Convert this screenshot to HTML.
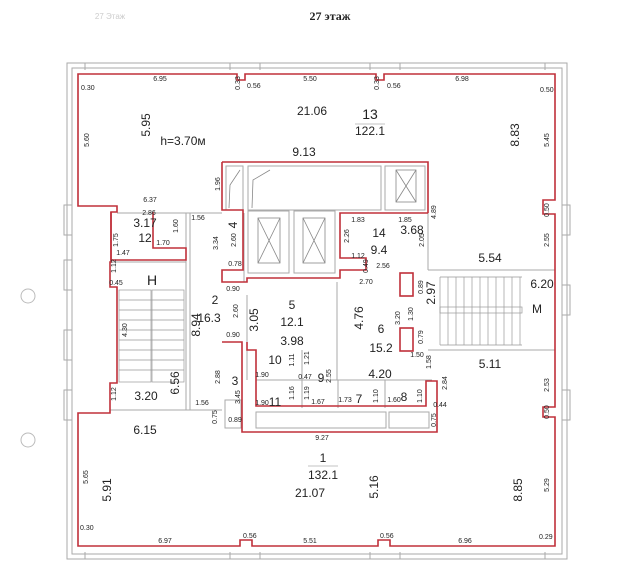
<!DOCTYPE html>
<html><head><meta charset="utf-8"><style>
html,body{margin:0;padding:0;background:#fff}
svg{display:block}
text{font-family:"Liberation Sans",sans-serif;fill:#222}
.s{font-size:7px}
.m{font-size:12px}
.l{font-size:14px}
</style></head><body>
<svg width="638" height="579" viewBox="0 0 638 579" xmlns="http://www.w3.org/2000/svg">
<rect width="638" height="579" fill="#fff"/>
<text x="330" y="20" text-anchor="middle" style="font-family:'Liberation Serif',serif;font-size:12px;font-weight:bold">27 этаж</text>
<text x="110" y="19" text-anchor="middle" style="font-size:8px;fill:#ccc">27 Этаж</text>
<circle cx="28" cy="296" r="7" fill="none" stroke="#bbb"/>
<circle cx="28" cy="440" r="7" fill="none" stroke="#bbb"/>
<g fill="none" stroke="#aaa" stroke-width="1">
<rect x="67" y="63" width="500" height="496"/>
<rect x="72" y="68" width="490" height="486"/>
<line x1="85" y1="63" x2="85" y2="70"/><line x1="230" y1="63" x2="230" y2="70"/><line x1="260" y1="63" x2="260" y2="70"/>
<line x1="370" y1="63" x2="370" y2="70"/><line x1="400" y1="63" x2="400" y2="70"/><line x1="545" y1="63" x2="545" y2="70"/>
<line x1="85" y1="552" x2="85" y2="559"/><line x1="230" y1="552" x2="230" y2="559"/><line x1="260" y1="552" x2="260" y2="559"/>
<line x1="370" y1="552" x2="370" y2="559"/><line x1="400" y1="552" x2="400" y2="559"/><line x1="545" y1="552" x2="545" y2="559"/>
<rect x="64" y="205" width="8" height="30"/><rect x="64" y="260" width="8" height="30"/><rect x="64" y="330" width="8" height="30"/><rect x="64" y="390" width="8" height="30"/>
<rect x="562" y="205" width="8" height="30"/><rect x="562" y="285" width="8" height="30"/><rect x="562" y="390" width="8" height="30"/>
<line x1="117" y1="213" x2="222" y2="213"/>
<line x1="186" y1="213" x2="186" y2="410"/><line x1="190" y1="213" x2="190" y2="410"/>
<line x1="110" y1="410" x2="222" y2="410"/>
<line x1="110" y1="262" x2="186" y2="262"/>
<line x1="244" y1="213" x2="244" y2="282"/>
<line x1="428" y1="213" x2="428" y2="270"/>
<line x1="428" y1="270" x2="555" y2="270"/>
<line x1="428" y1="350" x2="555" y2="350"/>
<line x1="337" y1="282" x2="337" y2="380"/>
<line x1="247" y1="295" x2="247" y2="380"/>
<line x1="256" y1="380" x2="432" y2="380"/>
<line x1="302" y1="350" x2="302" y2="408"/>
<line x1="338" y1="380" x2="338" y2="408"/>
<line x1="385" y1="380" x2="385" y2="408"/>
<rect x="226" y="166" width="17" height="44"/><rect x="248" y="166" width="133" height="44"/><rect x="385" y="166" width="40" height="44"/>
<rect x="248" y="211" width="41" height="62"/><rect x="294" y="211" width="41" height="62"/>
<rect x="256" y="412" width="130" height="16"/><rect x="389" y="412" width="40" height="16"/>
<rect x="225" y="400" width="16" height="28"/>
</g>
<g fill="none" stroke="#888" stroke-width="0.8">
<rect x="258" y="218" width="22" height="45"/><line x1="258" y1="218" x2="280" y2="263"/><line x1="280" y1="218" x2="258" y2="263"/>
<rect x="303" y="218" width="22" height="45"/><line x1="303" y1="218" x2="325" y2="263"/><line x1="325" y1="218" x2="303" y2="263"/>
<rect x="396" y="170" width="20" height="32"/><line x1="396" y1="170" x2="416" y2="202"/><line x1="416" y1="170" x2="396" y2="202"/>
<path d="M229 208 L230 185 L240 170"/><path d="M252 208 L253 180 L270 170"/>
</g>
<g stroke="#999" stroke-width="0.7" fill="none">
<rect x="119" y="290" width="32" height="92"/><rect x="152" y="290" width="32" height="92"/>
<path d="M119 300H184M119 310H184M119 320H184M119 330H184M119 340H184M119 350H184M119 360H184M119 370H184"/>
<path d="M440 277V345M448 277V345M456 277V345M464 277V345M472 277V345M480 277V345M488 277V345M496 277V345M504 277V345M512 277V345M520 277V345"/>
<rect x="440" y="307" width="82" height="6"/>
<line x1="440" y1="277" x2="522" y2="277"/><line x1="440" y1="345" x2="522" y2="345"/>
</g>
<g fill="none" stroke="#c0303a" stroke-width="1.6">
<path d="M78 206 V74 H237 V80 H245 V74 H376 V80 H384 V74 H555 V200 H543 V214 H555 V407 H543 V417 H555 V546 H390 V540 H378 V546 H252 V540 H240 V546 H78 V413 H110 V383 H117 V287 H110 V262 H111 V212 H117 V206 Z"/>
<path d="M111 212 V260 H186 V248 H153 V212"/>
<path d="M222 162 H428 V213"/>
<path d="M222 162 V210 H243 V270 H222 V282 H247 V278 H340 V270 H366 V258 H340 V213 H428"/>
<path d="M222 342 H242 V432 H437 V381 H426 V406 H256 V350 H247 V342"/>
<rect x="400" y="273" width="13" height="23"/>
<rect x="400" y="328" width="13" height="23"/>
</g>
<g class="s">
<text x="160" y="81" class="s" text-anchor="middle">6.95</text>
<text x="310" y="81" class="s" text-anchor="middle">5.50</text>
<text x="462" y="81" class="s" text-anchor="middle">6.98</text>
<text x="81" y="90" class="s">0.30</text>
<text x="247" y="88" class="s">0.56</text>
<text x="387" y="88" class="s">0.56</text>
<text x="540" y="92" class="s">0.50</text>
<text x="150" y="202" class="s" text-anchor="middle">6.37</text>
<text x="149" y="215" class="s" text-anchor="middle">2.86</text>
<text x="198" y="220" class="s" text-anchor="middle">1.56</text>
<text x="163" y="245" class="s" text-anchor="middle">1.70</text>
<text x="123" y="255" class="s" text-anchor="middle">1.47</text>
<text x="235" y="266" class="s" text-anchor="middle">0.78</text>
<text x="233" y="291" class="s" text-anchor="middle">0.90</text>
<text x="233" y="337" class="s" text-anchor="middle">0.90</text>
<text x="366" y="284" class="s" text-anchor="middle">2.70</text>
<text x="383" y="268" class="s" text-anchor="middle">2.56</text>
<text x="358" y="222" class="s" text-anchor="middle">1.83</text>
<text x="405" y="222" class="s" text-anchor="middle">1.85</text>
<text x="358" y="258" class="s" text-anchor="middle">1.12</text>
<text x="417" y="357" class="s" text-anchor="middle">1.50</text>
<text x="262" y="377" class="s" text-anchor="middle">1.90</text>
<text x="305" y="379" class="s" text-anchor="middle">0.47</text>
<text x="262" y="405" class="s" text-anchor="middle">1.90</text>
<text x="318" y="404" class="s" text-anchor="middle">1.67</text>
<text x="345" y="402" class="s" text-anchor="middle">1.73</text>
<text x="394" y="402" class="s" text-anchor="middle">1.60</text>
<text x="202" y="405" class="s" text-anchor="middle">1.56</text>
<text x="235" y="422" class="s" text-anchor="middle">0.89</text>
<text x="322" y="440" class="s" text-anchor="middle">9.27</text>
<text x="440" y="407" class="s" text-anchor="middle">0.44</text>
<text x="116" y="285" class="s" text-anchor="middle">0.45</text>
<text x="165" y="543" class="s" text-anchor="middle">6.97</text>
<text x="310" y="543" class="s" text-anchor="middle">5.51</text>
<text x="465" y="543" class="s" text-anchor="middle">6.96</text>
<text x="80" y="530" class="s">0.30</text>
<text x="243" y="538" class="s">0.56</text>
<text x="380" y="538" class="s">0.56</text>
<text x="539" y="539" class="s">0.29</text>
</g>
<g class="s" text-anchor="middle">
<text transform="translate(89,140) rotate(-90)">5.60</text>
<text transform="translate(549,140) rotate(-90)">5.45</text>
<text transform="translate(240,83) rotate(-90)">0.33</text>
<text transform="translate(379,83) rotate(-90)">0.33</text>
<text transform="translate(220,184) rotate(-90)">1.96</text>
<text transform="translate(178,226) rotate(-90)">1.60</text>
<text transform="translate(118,240) rotate(-90)">1.75</text>
<text transform="translate(218,243) rotate(-90)">3.34</text>
<text transform="translate(236,240) rotate(-90)">2.60</text>
<text transform="translate(238,311) rotate(-90)">2.60</text>
<text transform="translate(349,236) rotate(-90)">2.26</text>
<text transform="translate(424,240) rotate(-90)">2.05</text>
<text transform="translate(436,212) rotate(-90)">4.89</text>
<text transform="translate(368,266) rotate(-90)">0.49</text>
<text transform="translate(400,318) rotate(-90)">3.20</text>
<text transform="translate(413,314) rotate(-90)">1.30</text>
<text transform="translate(423,287) rotate(-90)">0.89</text>
<text transform="translate(423,337) rotate(-90)">0.79</text>
<text transform="translate(431,362) rotate(-90)">1.58</text>
<text transform="translate(447,383) rotate(-90)">2.84</text>
<text transform="translate(549,240) rotate(-90)">2.55</text>
<text transform="translate(549,385) rotate(-90)">2.53</text>
<text transform="translate(549,210) rotate(-90)">0.50</text>
<text transform="translate(549,412) rotate(-90)">0.50</text>
<text transform="translate(294,360) rotate(-90)">1.11</text>
<text transform="translate(309,358) rotate(-90)">1.21</text>
<text transform="translate(331,376) rotate(-90)">2.55</text>
<text transform="translate(294,393) rotate(-90)">1.16</text>
<text transform="translate(309,393) rotate(-90)">1.19</text>
<text transform="translate(378,396) rotate(-90)">1.10</text>
<text transform="translate(422,396) rotate(-90)">1.10</text>
<text transform="translate(220,377) rotate(-90)">2.88</text>
<text transform="translate(240,397) rotate(-90)">3.45</text>
<text transform="translate(217,417) rotate(-90)">0.75</text>
<text transform="translate(436,420) rotate(-90)">0.75</text>
<text transform="translate(116,266) rotate(-90)">1.12</text>
<text transform="translate(127,330) rotate(-90)">4.30</text>
<text transform="translate(116,394) rotate(-90)">1.12</text>
<text transform="translate(88,477) rotate(-90)">5.65</text>
<text transform="translate(549,485) rotate(-90)">5.29</text>
</g>
<g class="m" text-anchor="middle">
<text x="312" y="115">21.06</text>
<text x="370" y="119" class="l">13</text>
<text x="370" y="135">122.1</text>
<text x="304" y="156">9.13</text>
<text x="183" y="145">h=3.70м</text>
<text x="145" y="227">3.17</text>
<text x="145" y="242">12</text>
<text x="379" y="237">14</text>
<text x="412" y="234">3.68</text>
<text x="379" y="254">9.4</text>
<text x="490" y="262">5.54</text>
<text x="542" y="288">6.20</text>
<text x="537" y="313">M</text>
<text x="215" y="304">2</text>
<text x="209" y="322">16.3</text>
<text x="292" y="309">5</text>
<text x="292" y="326">12.1</text>
<text x="292" y="345">3.98</text>
<text x="381" y="333">6</text>
<text x="381" y="352">15.2</text>
<text x="490" y="368">5.11</text>
<text x="380" y="378">4.20</text>
<text x="275" y="364">10</text>
<text x="321" y="382">9</text>
<text x="275" y="406">11</text>
<text x="359" y="403">7</text>
<text x="404" y="401">8</text>
<text x="235" y="385">3</text>
<text x="152" y="285" class="l">H</text>
<text x="146" y="400">3.20</text>
<text x="145" y="434">6.15</text>
<text x="323" y="462">1</text>
<text x="323" y="479">132.1</text>
<text x="310" y="497">21.07</text>
</g>
<g class="m" text-anchor="middle">
<text transform="translate(150,125) rotate(-90)">5.95</text>
<text transform="translate(519,135) rotate(-90)">8.83</text>
<text transform="translate(237,225) rotate(-90)">4</text>
<text transform="translate(200,325) rotate(-90)">8.94</text>
<text transform="translate(258,320) rotate(-90)">3.05</text>
<text transform="translate(363,318) rotate(-90)">4.76</text>
<text transform="translate(435,293) rotate(-90)">2.97</text>
<text transform="translate(179,383) rotate(-90)">6.56</text>
<text transform="translate(111,490) rotate(-90)">5.91</text>
<text transform="translate(378,487) rotate(-90)">5.16</text>
<text transform="translate(522,490) rotate(-90)">8.85</text>
</g>
<line x1="355" y1="124" x2="385" y2="124" stroke="#888" stroke-width="0.6"/>
<line x1="308" y1="466" x2="338" y2="466" stroke="#888" stroke-width="0.6"/>
</svg>
</body></html>
